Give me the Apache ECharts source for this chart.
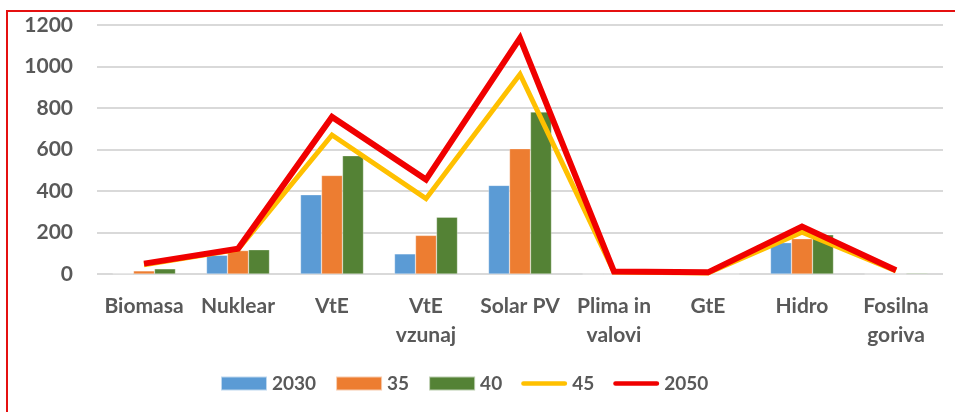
<!DOCTYPE html>
<html>
<head>
<meta charset="utf-8">
<script src="https://cdn.jsdelivr.net/npm/echarts@6/dist/echarts.min.js"></script>
<style>
  html, body { margin: 0; padding: 0; background: #fff; }
  #echart { width: 955px; height: 412px; }
</style>
</head>
<body>
<div id="echart"></div>
<script>
var categories = ['Biomasa', 'Nuklear', 'VtE', 'VtE\nvzunaj', 'Solar PV', 'Plima in\nvalovi', 'GtE', 'Hidro', 'Fosilna\ngoriva'];
var yTicks = [0, 200, 400, 600, 800, 1000, 1200];

var s2030 = [2, 90, 382, 97, 427, 0, 0, 151, 0];
var s35 = [15, 113, 475, 186, 604, 0, 0, 170, 0];
var s40 = [25, 117, 570, 274, 781, 0, 0, 189, 4];
var s45 = [45, 118, 670, 363, 963, 10, 5, 202, 15];
var s2050 = [50, 122, 757, 455, 1137, 12, 8, 229, 18];

var font = 'Lato';
var txt = '#595959';
var lineIcon = 'path://M2,0 H46 A2.5,2.5 0 0 1 46,5 H2 A2.5,2.5 0 0 1 2,0 Z';

var myChart = echarts.init(document.getElementById('echart'));

function bar(name, data, color) {
  return {
    name: name,
    type: 'bar',
    data: data,
    barGap: '0%',
    barCategoryGap: '33%',
    itemStyle: { color: color, borderColor: 'rgba(255,255,255,0.6)', borderWidth: 0.5 }
  };
}

function line(name, data, color, w) {
  return {
    name: name,
    type: 'line',
    data: data,
    symbol: 'none',
    lineStyle: { color: color, width: w, join: 'miter' },
    itemStyle: { color: color }
  };
}

var option = {
  animation: false,
  grid: { left: 97, right: 12, top: 25, bottom: 138 },
  graphic: [{
    type: 'rect',
    shape: { x: 7, y: 11, width: 1200, height: 1000 },
    style: { fill: 'none', stroke: '#e51010', lineWidth: 2 },
    silent: true
  }],
  legend: {
    top: 369,
    left: 215,
    itemWidth: 46,
    itemHeight: 14,
    itemGap: 19,
    textStyle: { color: txt, fontFamily: font, fontWeight: 'bold', fontSize: 19 },
    data: [
      { name: '2030', icon: 'rect' },
      { name: '35', icon: 'rect' },
      { name: '40', icon: 'rect' },
      { name: '45', icon: lineIcon },
      { name: '2050', icon: lineIcon }
    ]
  },
  xAxis: {
    type: 'category',
    data: categories,
    axisLine: { show: false },
    axisTick: { show: false },
    axisLabel: {
      color: txt, fontFamily: font, fontWeight: 'bold', fontSize: 21,
      lineHeight: 29, margin: 18, interval: 0
    }
  },
  yAxis: {
    type: 'value',
    min: yTicks[0],
    max: yTicks[yTicks.length - 1],
    interval: 200,
    axisLabel: {
      color: txt, fontFamily: font, fontWeight: 'bold', fontSize: 21, margin: 24,
      formatter: function (v) { return String(v); }
    },
    splitLine: { lineStyle: { color: '#d9d9d9', width: 2 } }
  },
  series: [
    bar('2030', s2030, '#5B9BD5'),
    bar('35', s35, '#ED7D31'),
    bar('40', s40, '#548235'),
    line('45', s45, '#FFC000', 5),
    line('2050', s2050, '#F00000', 6)
  ]
};
myChart.setOption(option);
</script>
</body>
</html>
